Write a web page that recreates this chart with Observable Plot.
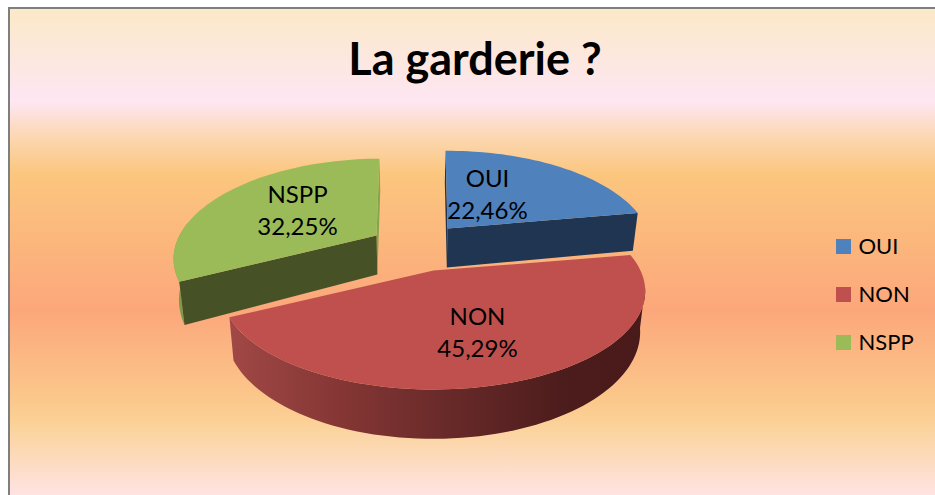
<!DOCTYPE html>
<html>
<head>
<meta charset="utf-8">
<script src="https://cdn.jsdelivr.net/npm/d3@7"></script>
<script src="https://cdn.jsdelivr.net/npm/@observablehq/plot@0.6"></script>
<style>
html,body{margin:0;padding:0;background:#fff;overflow:hidden}
#wrap{position:relative;width:935px;height:495px}
#bg{position:absolute;left:8px;top:7px;right:0;bottom:0;border-left:2px solid #7f7f7f;border-top:2px solid #7f7f7f;
background:linear-gradient(180deg,#fbe9c8 0%,#fee6f3 19%,#fcd8b4 26%,#fbc67e 34%,#fca77b 62%,#fbc98c 81%,#fbd39b 86%,#ffe3e3 100%)}
#wrap svg{position:absolute;left:0;top:0}
</style>
</head>
<body>
<div id="wrap"><div id="bg"></div></div>
<script>
const titleText = "La garderie ?";
const categories = ["OUI", "NON", "NSPP"];
const percents = [22.46, 45.29, 32.25];
const topColors = ["#4f81bd", "#c0504d", "#9bbb59"];

// layout of the exploded 3D pie
const apex = {OUI: [447, 228], NON: [433, 270], NSPP: [376, 235]};
const radiusX = {OUI: 200, NON: 207, NSPP: 197};
const radiusY = {OUI: 94, NON: 94, NSPP: 93};
const lean = {OUI: 0, NON: 0, NSPP: -6};
const labelY = {OUI: 192.5, NON: 330, NSPP: 208};
const labelX = {OUI: 487, NON: 477, NSPP: 297};
const P = 0.21, T = 39, VANISH_X = 415, TAPER = 0.022, START = -0.7;

const rad = d => d * Math.PI / 180;
let acc = START;
const slices = categories.map((name, i) => {
  const a0 = acc;
  acc += percents[i] * 3.6;
  return {name, a0, a1: acc};
});
function topPt(name, deg) {
  const X = Math.sin(rad(deg)), Z = -Math.cos(rad(deg));
  const k = 1 / (1 - P * Z);
  const [ax, ay] = apex[name];
  return [ax + (radiusX[name] * X + lean[name] * Z) * k, ay + radiusY[name] * Z * k, k];
}
function lower([x, y, k]) {
  return [x + (VANISH_X - x) * TAPER, y + T * (k === undefined ? 1 : k)];
}
function arc(name, a0, a1) {
  const n = Math.max(2, Math.ceil(Math.abs(a1 - a0) / 2));
  return d3.range(n + 1).map(i => topPt(name, a0 + (a1 - a0) * i / n));
}
const ctr = name => [apex[name][0], apex[name][1], 1];
const toRows = (pts, cat) => pts.map(p => ({x: p[0], y: p[1], cat}));
const poly = (pts, fill) => Plot.line(toRows(pts), {x: "x", y: "y", fill, stroke: "none"});
const wall = (a, b) => [a, b, lower(b), lower(a)];

const [sOui, sNon, sNspp] = slices;
const ouiEnd = topPt("OUI", sOui.a1);
const ouiStart = topPt("OUI", sOui.a0);
const nsppA = topPt("NSPP", sNspp.a0);
const nsppB = topPt("NSPP", sNspp.a1);
const nonOuter = arc("NON", Math.max(sNon.a0, 100), sNon.a1);
const nsppOuter = arc("NSPP", sNspp.a0, 278);

const face = s => toRows([ctr(s.name), ...arc(s.name, s.a0, s.a1)], s.name);

const marks = [
  // OUI
  poly(wall(ctr("OUI"), ouiStart), "#1f3552"),
  poly(wall(ctr("OUI"), ouiEnd), "#1f3552"),
  Plot.line(face(sOui), {x: "x", y: "y", z: "cat", fill: "cat", stroke: "none"}),
  // NON
  poly([...nonOuter, ...nonOuter.slice().reverse().map(lower)], "url(#nonSide)"),
  Plot.line(face(sNon), {x: "x", y: "y", z: "cat", fill: "cat", stroke: "none"}),
  // NSPP
  poly(wall(ctr("NSPP"), nsppB), "#86a44e"),
  poly([...nsppOuter, ...nsppOuter.slice().reverse().map(lower)], "#7f9a49"),
  poly(wall(ctr("NSPP"), nsppA), "#465226"),
  Plot.line(face(sNspp), {x: "x", y: "y", z: "cat", fill: "cat", stroke: "none"}),
  // title
  Plot.text([titleText], {x: 474.5, y: 60, text: d => d, fontSize: 45, fontWeight: 700, fill: "#000", lineAnchor: "middle"}),
  // data labels
  Plot.text(categories, {
    x: d => labelX[d],
    y: d => labelY[d],
    text: (d, i) => d + "\n" + percents[i].toFixed(2).replace(".", ",") + "%",
    fontSize: 24, fill: "#000", lineHeight: 1.33, lineAnchor: "middle"
  }),
  // legend
  Plot.rect(categories, {
    x1: 836, x2: 851,
    y1: (d, i) => 239 + i * 48, y2: (d, i) => 254 + i * 48,
    fill: d => d
  }),
  Plot.text(categories, {
    x: 858, y: (d, i) => 246 + i * 48, text: d => d,
    textAnchor: "start", lineAnchor: "middle", fontSize: 22, fill: "#000"
  })
];

const svg = Plot.plot({
  width: 935, height: 495,
  marginTop: 0, marginRight: 0, marginBottom: 0, marginLeft: 0,
  style: {background: "transparent", fontFamily: "Lato, 'Noto Sans', sans-serif"},
  x: {domain: [0, 935], range: [0, 935], axis: null},
  y: {domain: [0, 495], range: [0, 495], axis: null},
  color: {type: "ordinal", domain: categories, range: topColors},
  marks
});
const grad = d3.select(svg).append("defs").append("linearGradient")
  .attr("id", "nonSide").attr("gradientUnits", "userSpaceOnUse")
  .attr("x1", 231).attr("x2", 646).attr("y1", 0).attr("y2", 0);
[[0, "#a04846"], [0.25, "#863735"], [0.5, "#6a2b2a"], [0.8, "#4d1c1c"], [1, "#491a1a"]]
  .forEach(([o, c]) => grad.append("stop").attr("offset", o).attr("stop-color", c));
document.getElementById("wrap").appendChild(svg);
</script>
</body>
</html>
